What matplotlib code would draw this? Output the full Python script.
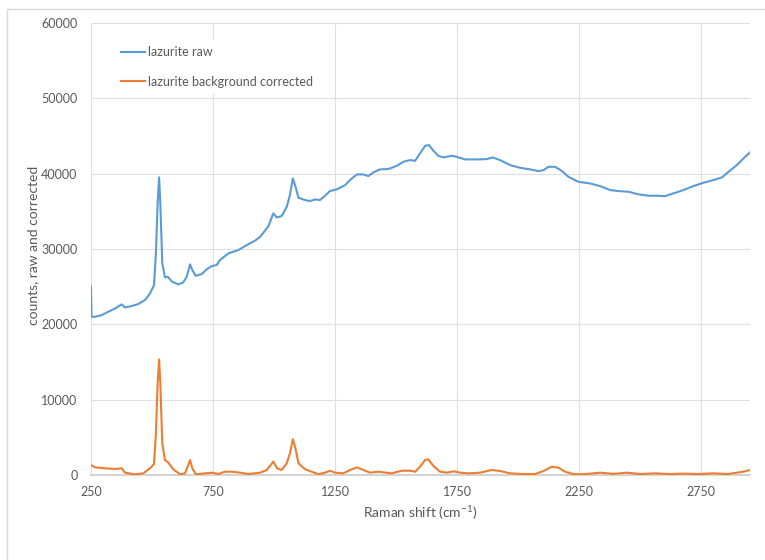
import matplotlib
matplotlib.use("Agg")
import matplotlib.pyplot as plt
from matplotlib.patches import Rectangle

plt.rcParams['font.family'] = ['Lato', 'DejaVu Sans']
plt.rcParams['mathtext.fontset'] = 'custom'
plt.rcParams['mathtext.rm'] = 'Lato'
plt.rcParams['mathtext.default'] = 'regular'

# ---- data ----
raw_shift = [250, 252, 266, 294, 321, 348, 376, 389, 417, 444, 471, 492, 508, 516, 523, 529,
             534, 542, 553, 564, 583, 608, 628, 642, 656, 665, 679, 704, 724, 745, 765, 778,
             813, 854, 895, 922, 943, 977, 997, 1011, 1031, 1052, 1065, 1077, 1086, 1100,
             1127, 1147, 1168, 1188, 1209, 1229, 1257, 1291, 1311, 1339, 1366, 1386, 1407,
             1434, 1468, 1503, 1530, 1557, 1578, 1598, 1619, 1635, 1653, 1673, 1694, 1728,
             1748, 1783, 1830, 1871, 1896, 1926, 1967, 2008, 2049, 2083, 2104, 2124, 2151,
             2179, 2206, 2247, 2295, 2336, 2377, 2411, 2452, 2493, 2534, 2568, 2602, 2636,
             2677, 2718, 2759, 2800, 2835, 2862, 2896, 2930, 2950]
raw_counts = [25000, 21000, 21000, 21230, 21670, 22100, 22650, 22250, 22430, 22700, 23220, 24100,
              25200, 29460, 36100, 39500, 36100, 28130, 26230, 26320, 25650, 25300, 25570,
              26320, 27960, 27200, 26450, 26670, 27300, 27740, 27870, 28530, 29420, 29860,
              30650, 31100, 31620, 33040, 34730, 34200, 34370, 35600, 37160, 39370, 38480,
              36800, 36500, 36360, 36580, 36500, 37070, 37690, 37910, 38480, 39150, 39900,
              39900, 39680, 40170, 40570, 40610, 41040, 41580, 41800, 41710, 42690, 43700,
              43790, 43040, 42370, 42160, 42370, 42240, 41890, 41890, 41930, 42160, 41800,
              41140, 40780, 40570, 40340, 40470, 40910, 40910, 40380, 39580, 38920, 38700,
              38350, 37820, 37690, 37600, 37250, 37070, 37070, 37020, 37380, 37820, 38350,
              38790, 39150, 39500, 40250, 41140, 42240, 42820]

corr_shift = [250, 266, 307, 348, 376, 389, 430, 464, 492, 508, 516, 523, 529, 534, 542, 553,
              567, 587, 615, 635, 646, 656, 665, 680, 717, 745, 772, 799, 827, 861, 895, 943,
              970, 997, 1013, 1031, 1052, 1065, 1077, 1086, 1100, 1127, 1154, 1182, 1209, 1229,
              1250, 1284, 1311, 1339, 1366, 1393, 1427, 1448, 1482, 1523, 1557, 1578, 1598,
              1619, 1632, 1653, 1680, 1708, 1735, 1762, 1796, 1844, 1892, 1926, 1967, 2021,
              2070, 2104, 2138, 2165, 2192, 2226, 2254, 2295, 2336, 2390, 2445, 2500, 2560,
              2620, 2680, 2740, 2800, 2860, 2923, 2950]
corr_counts = [1330, 1020, 890, 800, 890, 310, 90, 220, 890, 1460, 5530, 12170, 15350, 12170,
               4200, 1990, 1640, 760, 90, 220, 1100, 1990, 890, 90, 220, 310, 130, 440, 440,
               310, 130, 310, 660, 1770, 890, 660, 1550, 2880, 4740, 3760, 1550, 760, 440, 90,
               310, 570, 310, 220, 660, 1020, 660, 310, 440, 350, 220, 570, 570, 440, 1100,
               1990, 2080, 1190, 440, 310, 490, 310, 220, 310, 660, 530, 220, 130, 130, 530,
               1100, 970, 440, 130, 90, 180, 310, 150, 310, 130, 220, 130, 180, 130, 220, 130,
               440, 660]

x_ticks = [250, 750, 1250, 1750, 2250, 2750]
y_ticks = [0, 10000, 20000, 30000, 40000, 50000, 60000]
series_labels = ["lazurite raw", "lazurite background corrected"]
x_label = "Raman shift (cm$^{-1}$)"
y_label = "counts, raw and corrected"

# ---- figure ----
W, H = 765, 560
fig = plt.figure(figsize=(W / 100, H / 100), dpi=100)
fig.patches.append(Rectangle((7 / W, -0.1), 1.2, 1 - 9 / H + 0.1, transform=fig.transFigure,
                             fill=False, edgecolor='#d9d9d9', linewidth=1.0))

ax = fig.add_axes([91 / W, 1 - 475 / H, (750 - 91) / W, (475 - 23) / H])
ax.plot(raw_shift, raw_counts, color='#5B9BD5', lw=1.5, label=series_labels[0], zorder=3)
ax.plot(corr_shift, corr_counts, color='#ED7D31', lw=1.5, label=series_labels[1], zorder=3)

ax.set_xlim(250, 2950)
ax.set_ylim(0, 60000)
ax.set_xticks(x_ticks)
ax.set_yticks(y_ticks)
ax.grid(True, color='#e0e0e0', lw=0.8, zorder=0)
ax.set_axisbelow(True)
for s in ['top', 'right', 'left']:
    ax.spines[s].set_visible(False)
ax.spines['bottom'].set_color('#d4d4d4')
ax.spines['bottom'].set_linewidth(1.5)
ax.tick_params(axis='both', length=0, labelsize=9, labelcolor='#595959')
ax.tick_params(axis='y', pad=9.8)
ax.tick_params(axis='x', pad=8)

ax.set_xlabel(x_label, fontsize=10, color='#595959', va='center')
ax.set_ylabel(y_label, fontsize=10, color='#595959', va='center')
ax.xaxis.set_label_coords(0.5, (475 - 513) / 452)
ax.yaxis.set_label_coords((33 - 91) / 659, (475 - 245) / 452)

leg = ax.legend(loc='upper left', bbox_to_anchor=(115 / W, 1 - 40 / H),
                bbox_transform=fig.transFigure, frameon=True, fancybox=False,
                facecolor='white', edgecolor='none', framealpha=1, fontsize=9,
                handlelength=1.9, handletextpad=0.2, labelspacing=1.4, borderpad=0.5,
                borderaxespad=0)
for t in leg.get_texts():
    t.set_color('#595959')

fig.savefig('out.png', dpi=100)
